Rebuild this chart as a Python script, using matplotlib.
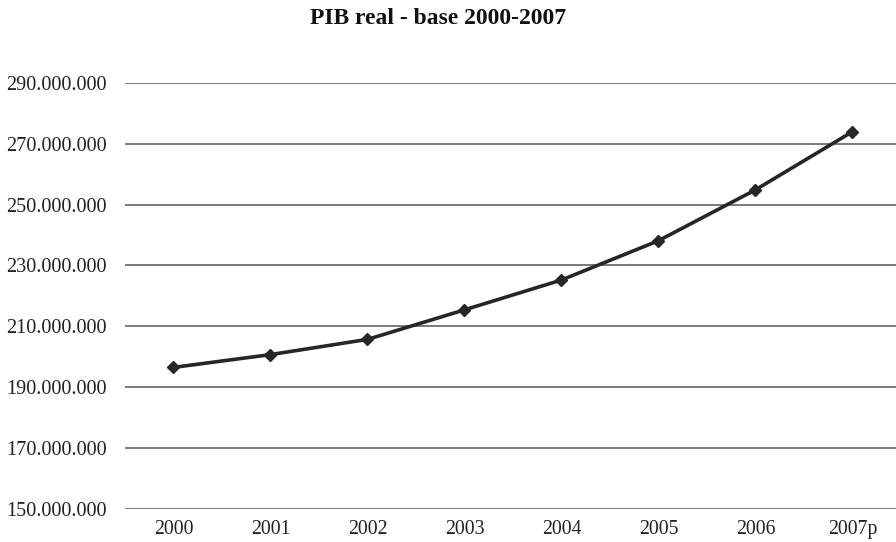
import matplotlib
matplotlib.use("Agg")
import matplotlib.pyplot as plt
from matplotlib.ticker import FuncFormatter

categories = ["2000", "2001", "2002", "2003", "2004", "2005", "2006", "2007p"]
pib = [196.5e6, 200.7e6, 205.7e6, 215.4e6, 225.2e6, 238.1e6, 254.8e6, 273.9e6]
yticks = [150e6, 170e6, 190e6, 210e6, 230e6, 250e6, 270e6, 290e6]

plt.rcParams['font.family'] = ['Liberation Serif', 'DejaVu Serif']

fig = plt.figure(figsize=(8.96, 5.42), dpi=100)
ax = fig.add_axes([125/896, 33/542, 1 - 125/896, (509 - 82.7)/542])

x = list(range(len(categories)))
ax.plot(x, pib, color='#262626', lw=2.6, marker='D', markersize=6.5, zorder=3)

ax.set_ylim(150e6, 290e6)
ax.set_xlim(-0.5, 7.45)
ax.set_yticks(yticks)
ax.yaxis.set_major_formatter(FuncFormatter(lambda v, p: f"{int(round(v)):,}".replace(",", ".")))
ax.set_xticks(x)
ax.set_xticklabels(categories)
ax.grid(axis='y', color='#7a7a7a', lw=1.4)
ax.set_axisbelow(True)
for s in ax.spines.values():
    s.set_visible(False)
ax.tick_params(axis='both', length=0, colors='#222222')
ax.tick_params(axis='y', pad=13, labelsize=14.6)
ax.tick_params(axis='x', pad=8, labelsize=14.2)

fig.text(438/896, 1 - 19/542, "PIB real - base 2000-2007", ha='center', va='center',
         fontsize=17, fontweight='bold', color='#111111')

fig.savefig("out.png", dpi=100)
